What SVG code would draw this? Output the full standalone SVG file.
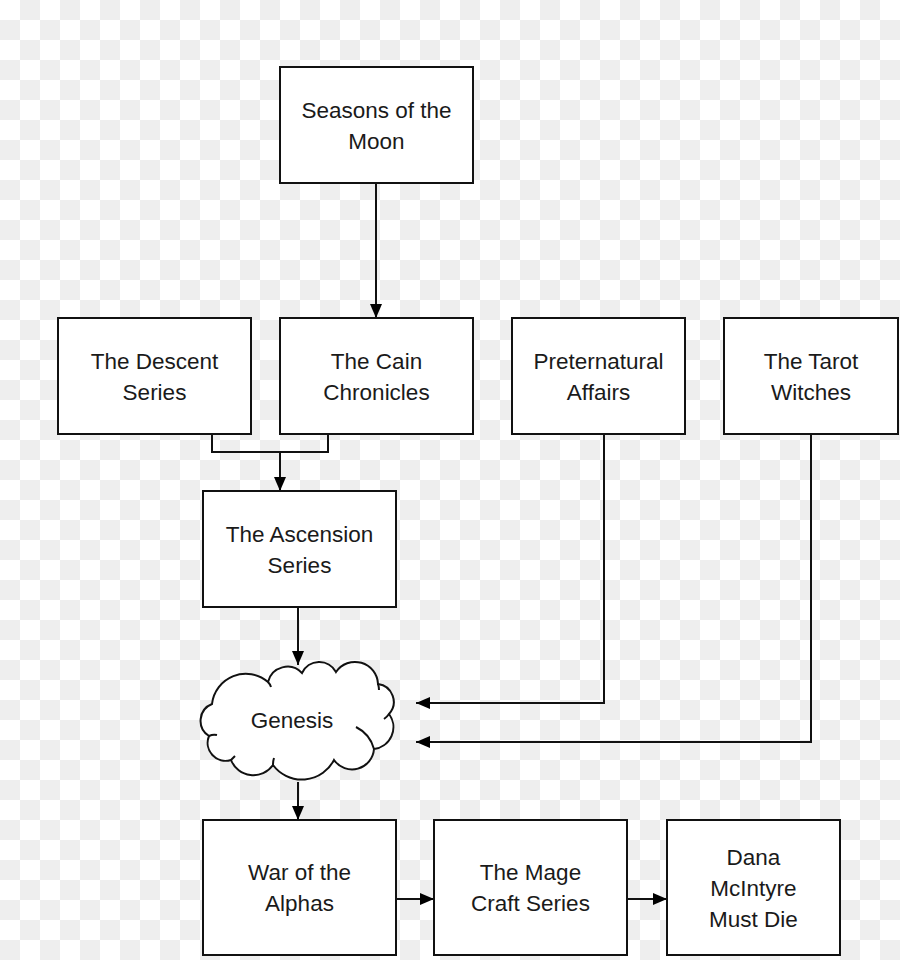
<svg xmlns="http://www.w3.org/2000/svg" width="900" height="960" viewBox="0 0 900 960">
<defs>
<pattern id="checker" x="0" y="0" width="40" height="40" patternUnits="userSpaceOnUse">
<rect width="40" height="40" fill="#ffffff"/>
<rect x="20" y="0" width="20" height="20" fill="#eeeeee"/>
<rect x="0" y="20" width="20" height="20" fill="#eeeeee"/>
</pattern>
<marker id="arrow" viewBox="0 0 14 12" refX="14" refY="6" markerWidth="14" markerHeight="12" markerUnits="userSpaceOnUse" orient="auto">
<path d="M0,0 L14,6 L0,12 Z" fill="#000"/>
</marker>
<style>
.box{fill:#fff;stroke:#111;stroke-width:2}
.lbl{font-family:"Liberation Sans",Arial,sans-serif;font-size:22.5px;fill:#1a1a1a;text-anchor:middle}
.conn{fill:none;stroke:#111;stroke-width:2}
.arr{marker-end:url(#arrow)}
</style>
</defs>
<rect width="900" height="960" fill="url(#checker)"/>

<g id="connectors">
<path class="conn arr" d="M376,183 V318"/>
<path class="conn" d="M212,434 V452 H328 V434"/>
<path class="conn arr" d="M280,452 V491"/>
<path class="conn arr" d="M298,607 V665"/>
<path class="conn arr" d="M604,434 V703 H416"/>
<path class="conn arr" d="M811,434 V742 H416"/>
<path class="conn arr" d="M298,782 V820"/>
<path class="conn arr" d="M396,899 H434"/>
<path class="conn arr" d="M627,899 H667"/>
</g>

<g id="seasons">
<rect class="box" x="280" y="67" width="193" height="116"/>
<text class="lbl" x="376.5" y="118">Seasons of the</text>
<text class="lbl" x="376.5" y="149">Moon</text>
</g>
<g id="descent">
<rect class="box" x="58" y="318" width="193" height="116"/>
<text class="lbl" x="154.5" y="369">The Descent</text>
<text class="lbl" x="154.5" y="400">Series</text>
</g>
<g id="cain">
<rect class="box" x="280" y="318" width="193" height="116"/>
<text class="lbl" x="376.5" y="369">The Cain</text>
<text class="lbl" x="376.5" y="400">Chronicles</text>
</g>
<g id="preternatural">
<rect class="box" x="512" y="318" width="173" height="116"/>
<text class="lbl" x="598.5" y="369">Preternatural</text>
<text class="lbl" x="598.5" y="400">Affairs</text>
</g>
<g id="tarot">
<rect class="box" x="724" y="318" width="174" height="116"/>
<text class="lbl" x="811" y="369">The Tarot</text>
<text class="lbl" x="811" y="400">Witches</text>
</g>
<g id="ascension">
<rect class="box" x="203" y="491" width="193" height="116"/>
<text class="lbl" x="299.5" y="542">The Ascension</text>
<text class="lbl" x="299.5" y="573">Series</text>
</g>
<g id="genesis">
<path class="box" d="M212,704 A34,34 0 0 1 268,682 A20,20 0 0 1 302,673 A19,19 0 0 1 336,672 A23,23 0 0 1 378,684 A18,18 0 0 1 389,714 A22,22 0 0 1 374,749 A22,22 0 0 1 334,760 A36,36 0 0 1 273,765 A24,24 0 0 1 231,760 A18,18 0 0 1 209,736 A18,18 0 0 1 212,704 Z"/>
<path class="conn" d="M268,682 Q270,684 271,687 M378,684 Q379,687 379,690 M389,714 Q387,717 384,719 M356,727 Q370,734 374,749 M273,765 Q273,761 274,758 M231,760 Q233,758 235,756 M209,736 Q213,734 217,735"/>
<text class="lbl" x="292" y="728">Genesis</text>
</g>
<g id="war">
<rect class="box" x="203" y="820" width="193" height="135"/>
<text class="lbl" x="299.5" y="880">War of the</text>
<text class="lbl" x="299.5" y="911">Alphas</text>
</g>
<g id="mage">
<rect class="box" x="434" y="820" width="193" height="135"/>
<text class="lbl" x="530.5" y="880">The Mage</text>
<text class="lbl" x="530.5" y="911">Craft Series</text>
</g>
<g id="dana">
<rect class="box" x="667" y="820" width="173" height="135"/>
<text class="lbl" x="753.5" y="865">Dana</text>
<text class="lbl" x="753.5" y="896">McIntyre</text>
<text class="lbl" x="753.5" y="927">Must Die</text>
</g>
</svg>
